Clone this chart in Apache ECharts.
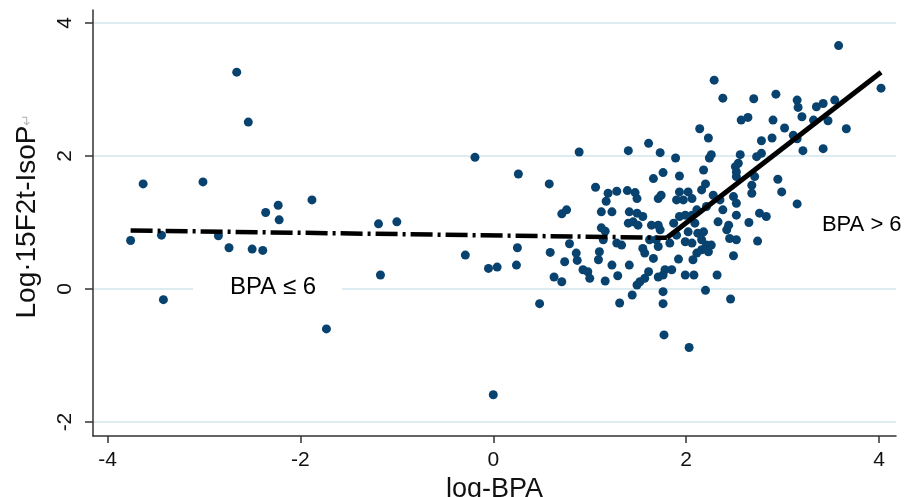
<!DOCTYPE html>
<html>
<head>
<meta charset="utf-8">
<script src="https://cdn.jsdelivr.net/npm/echarts@6/dist/echarts.min.js"></script>
<style>
  html, body { margin: 0; padding: 0; background: #fff; }
  #chart { width: 906px; height: 497px; }
</style>
</head>
<body>
<div id="chart"></div>
<script>
// log-BPA vs Log 15F2t-IsoP
const samples = [
  [-3.76, 0.73], [-3.63, 1.58], [-3.44, 0.81], [-3.42, -0.16], [-3.01, 1.61], [-2.85, 0.80],
  [-2.74, 0.62], [-2.66, 3.26], [-2.54, 2.51], [-2.50, 0.60], [-2.39, 0.58], [-2.36, 1.15],
  [-2.23, 1.26], [-2.22, 1.04], [-1.88, 1.34], [-1.73, -0.60], [-1.19, 0.98], [-1.17, 0.21],
  [-1.00, 1.01], [-0.29, 0.51], [-0.19, 1.98], [-0.05, 0.31], [0.00, -1.59], [0.04, 0.33],
  [0.24, 0.36], [0.25, 0.62], [0.26, 1.73], [0.48, -0.22],
  [0.58, 1.58], [0.59, 0.55], [0.63, 0.18], [0.71, 0.11], [0.71, 1.13], [0.76, 1.19],
  [0.74, 0.41], [0.79, 0.68], [0.86, 0.54], [0.87, 0.43], [0.89, 2.06], [0.93, 0.29],
  [0.98, 0.26], [1.00, 0.16], [1.06, 1.53], [1.09, 0.44], [1.10, 0.56], [1.12, 0.92],
  [1.16, 0.87], [1.12, 1.16], [1.14, 0.74], [1.16, 0.12], [1.17, 1.32], [1.19, 1.44],
  [1.23, 1.16], [1.23, 0.36], [1.28, 1.47], [1.28, 0.69], [1.29, 0.20], [1.31, -0.21],
  [1.33, 0.66], [1.39, 1.48], [1.40, 2.08], [1.40, 0.99], [1.41, 0.36], [1.41, 1.16],
  [1.44, -0.09], [1.45, 1.01], [1.50, 0.96], [1.47, 1.45], [1.49, 1.36], [1.49, 1.14],
  [1.49, 0.06], [1.52, 0.11], [1.55, 1.09], [1.55, 0.61], [1.57, 0.54], [1.57, 0.16],
  [1.61, 0.26], [1.61, 2.19], [1.62, 0.74], [1.64, 0.96], [1.66, 0.46], [1.66, 1.66],
  [1.69, 0.74], [1.71, 0.96], [1.71, 0.64], [1.71, 1.36], [1.71, 0.18], [1.73, 0.89],
  [1.73, 2.05], [1.74, 1.41], [1.76, -0.04], [1.76, 1.75], [1.76, 0.21], [1.76, -0.22],
  [1.77, -0.69], [1.78, 0.29], [1.83, 0.69], [1.85, 0.29], [1.87, 0.99], [1.89, 1.97],
  [1.90, 1.34], [1.90, 0.81], [1.92, 0.45], [1.93, 1.70], [1.93, 1.46], [1.93, 1.09],
  [1.97, 1.34], [1.99, 1.11], [1.99, 0.71], [1.99, 0.21], [2.02, 1.46], [2.02, 0.86],
  [2.03, -0.88], [2.06, 1.36], [2.06, 1.11], [2.06, 0.69], [2.07, 0.44], [2.08, 0.21],
  [2.09, 0.99], [2.11, 1.19], [2.11, 0.54], [2.12, 0.84],
  [2.14, 2.41], [2.16, 1.49], [2.16, 0.74], [2.16, 0.59], [2.18, 0.86], [2.18, 1.79],
  [2.20, 1.58], [2.20, -0.02], [2.21, 1.24], [2.21, 0.66], [2.23, 2.27], [2.23, 0.56],
  [2.24, 1.97], [2.26, 2.02], [2.26, 0.66], [2.28, 1.41], [2.29, 3.14], [2.32, 0.21],
  [2.33, 1.01], [2.35, 1.34], [2.38, 2.87], [2.38, 1.19], [2.42, 0.89], [2.44, 0.96],
  [2.45, 0.76], [2.46, -0.15], [2.49, 0.50], [2.49, 1.39], [2.51, 1.84], [2.52, 1.76],
  [2.52, 1.69], [2.52, 1.29], [2.52, 1.11], [2.54, 1.89], [2.56, 2.02], [2.52, 0.74],
  [2.57, 2.54], [2.64, 2.58], [2.65, 1.00], [2.68, 1.56], [2.68, 1.44], [2.70, 2.86],
  [2.71, 1.69], [2.73, 1.99], [2.74, 0.72], [2.76, 1.14], [2.78, 2.23], [2.78, 2.04],
  [2.83, 1.09],
  [2.89, 2.27], [2.90, 2.54], [2.93, 2.93], [2.95, 1.65], [2.99, 1.46], [3.02, 2.42],
  [3.11, 2.31], [3.15, 2.84], [3.15, 2.26], [3.15, 1.28], [3.16, 2.73], [3.20, 2.59],
  [3.21, 2.08], [3.32, 2.54], [3.35, 2.74], [3.42, 2.79], [3.42, 2.11], [3.47, 2.53],
  [3.54, 2.84], [3.58, 3.66], [3.66, 2.41], [4.02, 3.02]
];

// piecewise fit: BPA <= 6 and BPA > 6
const lowFit = [[-3.76, 0.88], [1.80, 0.77]];
const highFit = [[1.80, 0.77], [4.02, 3.26]];

const xTicks = [-4, -2, 0, 2, 4];
const yTicks = [-2, 0, 2, 4];

const noteText = ['BPA \u2264 6', 'BPA > 6'];
const noteAt = [[-2.34, 0.02], [3.82, 0.96]];

const chart = echarts.init(document.getElementById('chart'));

const axisColor = '#333';
const font = 'Liberation Sans, Arial, sans-serif';

const noteLabels = [
  { fontSize: 24, backgroundColor: '#fff', padding: [3, 26, 3, 37] },
  { fontSize: 22 }
];

const option = {
  animation: false,
  backgroundColor: '#fff',
  textStyle: { fontFamily: font },
  grid: { left: 93, right: 10, top: 10, bottom: 61, outerBoundsMode: 'none', containLabel: false },
  xAxis: {
    type: 'value',
    min: -4.15,
    max: 4.175,
    name: 'log-BPA',
    nameLocation: 'middle',
    nameGap: 36,
    nameTextStyle: { fontSize: 27, color: '#111', fontFamily: font },
    axisLine: { onZero: false, lineStyle: { color: axisColor, width: 1.5 } },
    axisTick: { show: true, length: 7, customValues: xTicks, lineStyle: { color: axisColor, width: 1.5 } },
    axisLabel: { customValues: xTicks, fontSize: 21, color: '#111', margin: 14, fontFamily: font },
    splitLine: { show: false }
  },
  yAxis: {
    type: 'value',
    min: -2.21,
    max: 4.195,
    name: 'Log\u00b715F2t-IsoP{r|\u21b5}',
    nameLocation: 'middle',
    nameGap: 52,
    nameTextStyle: {
      fontSize: 28, color: '#111', fontFamily: font, padding: [0, 0, 0, 14],
      rich: { r: { fontSize: 14, color: '#bbb' } }
    },
    axisLine: { show: true, onZero: false, lineStyle: { color: axisColor, width: 1.5 } },
    axisTick: { show: true, length: 8, customValues: yTicks, lineStyle: { color: axisColor, width: 1.5 } },
    axisLabel: { customValues: yTicks, rotate: 90, fontSize: 21, color: '#111', margin: 17, fontFamily: font },
    splitLine: { show: true, lineStyle: { color: '#dcecf1', width: 2 } }
  },
  series: [
    {
      name: 'samples',
      type: 'scatter',
      data: samples,
      symbol: 'circle',
      symbolSize: 9,
      itemStyle: { color: '#08426f', opacity: 1 },
      z: 2
    },
    {
      name: 'fitLow',
      type: 'line',
      data: lowFit,
      symbol: 'none',
      lineStyle: { color: '#000', width: 4.5, type: [22, 5, 3, 5] },
      z: 3
    },
    {
      name: 'fitHigh',
      type: 'line',
      data: highFit,
      symbol: 'none',
      lineStyle: { color: '#000', width: 5 },
      z: 3
    },
    {
      name: 'notes',
      type: 'scatter',
      symbolSize: 0,
      silent: true,
      z: 4,
      itemStyle: { opacity: 1 },
      label: { show: true, position: 'inside', formatter: '{b}', color: '#000', fontFamily: font },
      data: noteText.map((t, i) => ({ name: t, value: noteAt[i], label: noteLabels[i] }))
    }
  ]
};

chart.setOption(option);
</script>
</body>
</html>
